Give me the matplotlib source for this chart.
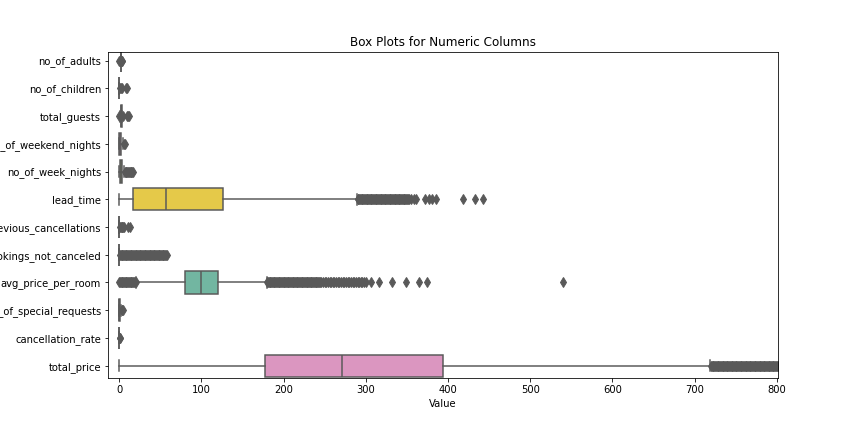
import colorsys
import matplotlib
matplotlib.use("Agg")
import matplotlib.pyplot as plt
import matplotlib.colors as mcolors

columns = ["no_of_adults", "no_of_children", "total_guests", "no_of_weekend_nights",
           "no_of_week_nights", "lead_time", "no_of_previous_cancellations",
           "no_of_previous_bookings_not_canceled", "avg_price_per_room",
           "no_of_special_requests", "cancellation_rate", "total_price"]

whislo = [2, 0, 1, 0, 0, 0, 0, 0, 21, 0, 0, 0]
q1 = [2, 0, 2, 0, 1, 17, 0, 0, 80.3, 0, 0, 177]
medians = [2, 0, 2, 1, 2, 57, 0, 0, 99.45, 0, 0, 271]
q3 = [2, 0, 3, 2, 3, 126, 0, 0, 120, 1, 0, 394]
whishi = [2, 0, 4, 5, 6, 289, 0, 0, 179.5, 2, 0, 719]

fliers = [
    [0, 1, 3, 4],
    [1, 2, 3, 9, 10],
    [0, 5, 10, 11, 12],
    [6, 7],
    [7, 8, 9, 10, 11, 12, 13, 14, 15, 16, 17],
    [290, 291, 292, 293, 294, 295, 296, 297, 298, 299, 300, 301, 302, 303, 304,
     305, 306, 307, 308, 309, 310, 311, 312, 313, 314, 315, 316, 317, 318, 319,
     320, 321, 322, 323, 324, 325, 326, 327, 328, 329, 330, 331, 332, 333, 334,
     335, 336, 337, 338, 339, 340, 341, 342, 343, 344, 345, 346, 347, 348, 349,
     350, 351, 353, 355, 359, 361, 372, 377, 381, 386, 418, 433, 443],
    [1, 2, 3, 4, 5, 6, 11, 13],
    [1, 2, 3, 4, 5, 6, 7, 8, 9, 10, 11, 12, 13, 14, 15, 16, 17, 18, 19, 20, 21,
     22, 23, 24, 25, 26, 27, 28, 29, 30, 31, 32, 33, 34, 35, 36, 37, 38, 39, 40,
     41, 42, 43, 44, 45, 46, 47, 48, 49, 50, 51, 52, 53, 54, 55, 56, 57, 58],
    [0, 1, 2, 3, 4, 5, 6, 7, 8, 9, 10, 11, 12, 13, 14, 15, 16, 17, 18, 19, 20,
     180, 181, 182, 183, 184, 185, 186, 187, 188, 189, 190, 191, 192, 193, 194,
     195, 196, 197, 198, 199, 200, 201, 202, 203, 204, 205, 206, 207, 208, 209,
     210, 211, 212, 213, 214, 215, 216, 217, 218, 219, 220, 221, 222, 223, 224,
     225, 226, 227, 228, 229, 230, 231, 232, 233, 234, 235, 236, 237, 238, 239,
     240, 241, 242, 243, 244, 246, 248, 250, 252, 254, 256, 258, 260, 262, 264,
     266, 268, 270, 272, 274, 276, 278, 280, 282, 284, 286, 288, 290, 292, 294,
     296, 298, 300, 306, 316, 332, 349, 365, 375, 540],
    [3, 4, 5],
    [0.5, 1],
    [720, 721, 722, 723, 724, 725, 726, 727, 728, 729, 730, 731, 732, 733, 734,
     735, 736, 737, 738, 739, 740, 741, 742, 743, 744, 745, 746, 747, 748, 749,
     750, 751, 752, 753, 754, 755, 756, 757, 758, 759, 760, 761, 762, 763, 764,
     765, 766, 767, 768, 769, 770, 771, 772, 773, 774, 775, 776, 777, 778, 779,
     780, 781, 782, 783, 784, 785, 786, 787, 788, 789, 790, 791, 792, 793, 794,
     795, 796, 797, 798, 799, 800, 801, 803, 805, 820, 850],
]

set2 = ["#66c2a5", "#fc8d62", "#8da0cb", "#e78ac3", "#a6d854", "#ffd92f", "#e5c494", "#b3b3b3"]


def desaturate(c, prop=0.75):
    h, l, s = colorsys.rgb_to_hls(*mcolors.to_rgb(c))
    return colorsys.hls_to_rgb(h, l, s * prop)


box_colors = [desaturate(set2[i % len(set2)]) for i in range(len(columns))]
lum = min(colorsys.rgb_to_hls(*c)[1] for c in box_colors) * 0.6
gray = (lum, lum, lum)

stats = []
for i, name in enumerate(columns):
    stats.append(dict(label=name, whislo=whislo[i], q1=q1[i], med=medians[i],
                      q3=q3[i], whishi=whishi[i], fliers=fliers[i]))

fig, ax = plt.subplots(figsize=(12, 6), dpi=72)
fig.subplots_adjust(left=0.125, right=0.9, bottom=0.126, top=0.879)
bp = ax.bxp(stats, positions=range(len(columns)), vert=False, widths=0.8,
            patch_artist=True, showfliers=True,
            boxprops=dict(edgecolor=gray, linewidth=1.5),
            whiskerprops=dict(color=gray, linewidth=1.5),
            capprops=dict(color=gray, linewidth=1.5),
            medianprops=dict(color=gray, linewidth=1.5),
            flierprops=dict(marker="d", markerfacecolor=gray, markeredgecolor=gray,
                            markersize=7, linestyle="none"))
for patch, c in zip(bp["boxes"], box_colors):
    patch.set_facecolor(c)

ax.set_ylim(11.43, -0.30)
ax.set_xlim(-13.5, 801)
ax.set_title("Box Plots for Numeric Columns")
ax.set_xlabel("Value")

fig.savefig("out.png", dpi=72)
